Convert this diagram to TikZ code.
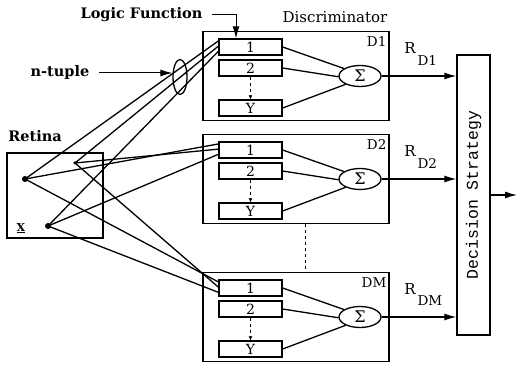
\documentclass[tikz,border=0pt]{standalone}
\usepackage{fontspec}
\setmainfont{DejaVu Serif}
\newfontfamily\decfont{Liberation Mono}
\usetikzlibrary{arrows.meta,shapes.geometric,calc}
\begin{document}
\begin{tikzpicture}[x=1pt,y=-1pt,line width=1.3pt,
  txt/.style={font=\fontsize{15}{17}\selectfont, inner sep=1pt},
  btxt/.style={font=\bfseries\fontsize{14.5}{17}\selectfont, inner sep=1pt},
  disc/.style={draw, minimum width=186pt, minimum height=89pt, inner sep=0pt},
  cell/.style={draw, minimum width=63pt, minimum height=16pt, inner sep=0pt, font=\fontsize{14}{14}\selectfont},
  sig/.style={draw, ellipse, minimum width=42pt, minimum height=21pt, inner sep=0pt, font=\fontsize{16}{16}\selectfont},
  arr/.style={-{Latex[length=12pt,width=7pt]}},
  dot/.style={circle, fill, inner sep=0pt, minimum size=6pt}]
\useasboundingbox (0,0) rectangle (522,366);

% titles
\node[btxt, anchor=east] (lf) at (204,15) {Logic Function};
\node[txt] (disclab) at (335,17) {Discriminator};
\node[btxt, anchor=east] (nt) at (91,73) {n-tuple};
\node[btxt] (ret) at (35,136) {Retina};

% retina
\node[draw, minimum width=96pt, minimum height=85pt, inner sep=0pt] (retina) at (55,195.5) {};
\node[dot] (A) at (25,179) {};
\node[dot] (B) at (48,226) {};
\node[dot, minimum size=3.5pt] (C) at (75,163) {};
\node[inner sep=0pt, font=\bfseries\fontsize{11}{12}\selectfont] (xl) at (21,228) {\underline{X}};

% discriminators
\foreach \n/\t in {1/32, 2/135, M/273}{
  \node[disc] (d\n) at (296,\t+44) {};
  \node[cell] (c\n1) at (250.5,\t+15) {1};
  \node[cell] (c\n2) at (250.5,\t+36) {2};
  \node[cell] (c\n3) at (250.5,\t+76) {Y};
  \node[sig] (s\n) at (360,\t+44) {Σ};
  \node[txt, font=\fontsize{13.5}{15}\selectfont, anchor=north east] (lab\n) at (388,\t+3) {D\n};
  \node[txt] (r\n) at (410,\t+16) {R};
  \node[txt, font=\fontsize{13.5}{15}\selectfont, anchor=west] (rs\n) at (416,\t+28) {D\n};
  \draw (c\n1.east) -- (s\n.155);
  \draw (c\n2.east) -- (s\n.182);
  \draw (c\n3.east) -- (s\n.210);
  \draw[dashed, line width=1pt, -{Latex[length=4pt,width=4pt]}] (c\n2.south) -- (c\n3.north);
}

% decision strategy
\node[draw, minimum width=33pt, minimum height=280pt, inner sep=0pt] (dec) at (473.5,195) {};
\node[rotate=90, font=\decfont\fontsize{16.5}{17}\selectfont] (dectxt) at (dec.center) {Decision Strategy};
\coordinate (out) at (517,195);
\draw[arr] (dec.east) -- (out);
\foreach \n in {1,2,M}{
  \draw[arr] (s\n.east) -- (s\n.east -| dec.west);
}

% dash between D2 and DM
\draw[dashed, line width=1pt] ([xshift=9pt]d2.south) -- ([xshift=9pt]dM.north);

% retina connections
\foreach \n in {1,2,M}{
  \draw ($(A.center)$) -- ($(c\n1.north west)!0.15!(c\n1.south west)$);
  \draw ($(C.center)$) -- ($(c\n1.north west)!0.45!(c\n1.south west)$);
  \draw ($(B.center)$) -- ($(c\n1.north west)!0.75!(c\n1.south west)$);
}

% n-tuple ellipse and arrow
\node[draw, ellipse, minimum width=14pt, minimum height=35pt, inner sep=0pt] (tup) at (180,77) {};
\draw[arr, line width=1pt] ([xshift=8pt]nt.east) -- (nt.east -| tup.west);

% logic function arrow
\coordinate (lfx) at (236,15);
\draw[arr, line width=1pt] ([xshift=8pt]lf.east) -| (lfx |- c11.north);
\end{tikzpicture}
\end{document}
